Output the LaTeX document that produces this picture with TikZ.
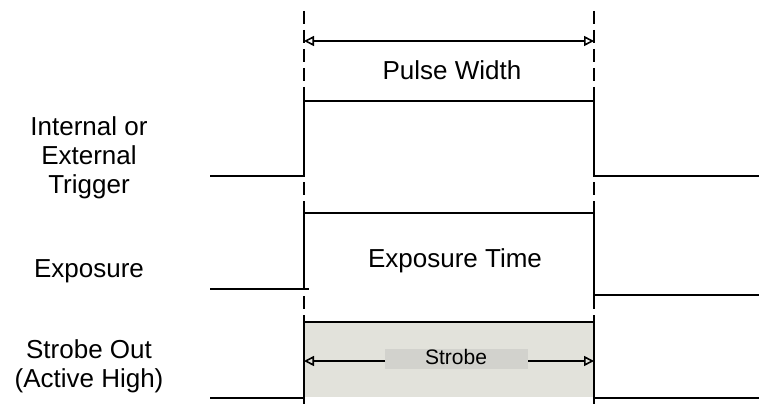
\documentclass[tikz,border=0pt]{standalone}
\usepackage{fontspec}
\setmainfont{Liberation Sans}
\usetikzlibrary{arrows.meta}
\definecolor{strobefill}{RGB}{226,226,219}
\definecolor{strobelab}{RGB}{210,210,205}
\tikzset{
  sig/.style={line width=2pt},
  guide/.style={line width=2pt, dash pattern=on 13pt off 6pt},
  dim/.style={line width=1.6pt, {Triangle[open,length=10pt,width=10pt]}-{Triangle[open,length=10pt,width=10pt]}},
  dimr/.style={line width=1.6pt, -{Triangle[open,length=10pt,width=10pt]}},
  lab/.style={font=\fontsize{26}{29}\selectfont, inner sep=0pt, align=center},
  slab/.style={font=\fontsize{21}{24}\selectfont, inner sep=0pt}
}
\begin{document}
\begin{tikzpicture}[x=1pt,y=-1pt]
\useasboundingbox (0,0) rectangle (759,409);
% strobe fill
\fill[strobefill] (304,322) rectangle (594,397);
\fill[strobelab] (385,349) rectangle (528,369);
% coordinates
\coordinate (tL) at (210,176);
\coordinate (tR) at (304,176);
\coordinate (tRt) at (304,101);
\coordinate (tFt) at (594,101);
\coordinate (tF) at (594,176);
\coordinate (tE) at (759,176);
\coordinate (eL) at (210,289);
\coordinate (eLx) at (309,289);
\coordinate (eR) at (304,289);
\coordinate (eRt) at (304,213);
\coordinate (eFt) at (594,213);
\coordinate (eF) at (594,295);
\coordinate (eE) at (759,295);
\coordinate (sL) at (210,398);
\coordinate (sR) at (304,398);
\coordinate (sRt) at (304,322);
\coordinate (sFt) at (594,322);
\coordinate (sF) at (594,398);
\coordinate (sE) at (759,398);
\coordinate (g1a) at (304,11);
\coordinate (g1b) at (304,409);
\coordinate (g2a) at (594,11);
\coordinate (g2b) at (594,409);
\coordinate (pwL) at (304,41);
\coordinate (pwR) at (594,41);
% waveforms
\draw[sig] (tL) -- (tR) -- (tRt) -- (tFt) -- (tF) -- (tE);
\draw[sig] (eL) -- (eLx);
\draw[sig] (eR) -- (eRt) -- (eFt) -- (eF) -- (eE);
\draw[sig] (sL) -- (sR) -- (sRt) -- (sFt) -- (sF) -- (sE);
% guides
\draw[guide] (g1a) -- (g1b);
\draw[guide] (g2a) -- (g2b);
% pulse width
\draw[dim] (pwL) -- (pwR);
\node[lab, anchor=base] (pw) at (452,80) {Pulse Width};
\node[lab, anchor=base] (et) at (455,267) {Exposure Time};
\node[slab, anchor=base] (st) at (456,364) {Strobe};
\coordinate (sAL) at (304,361);
\coordinate (sAR) at (594,361);
\coordinate (sBL) at (385,361);
\coordinate (sBR) at (528,361);
\draw[dimr] (sBL) -- (sAL);
\draw[dimr] (sBR) -- (sAR);
% left labels
\node[lab, anchor=center] (lt) at (89,157.5) {Internal or\\External\\Trigger};
\node[lab, anchor=base] (le) at (89,277) {Exposure};
\node[lab, anchor=center] (ls) at (89,366) {Strobe Out\\(Active High)};
\end{tikzpicture}
\end{document}
